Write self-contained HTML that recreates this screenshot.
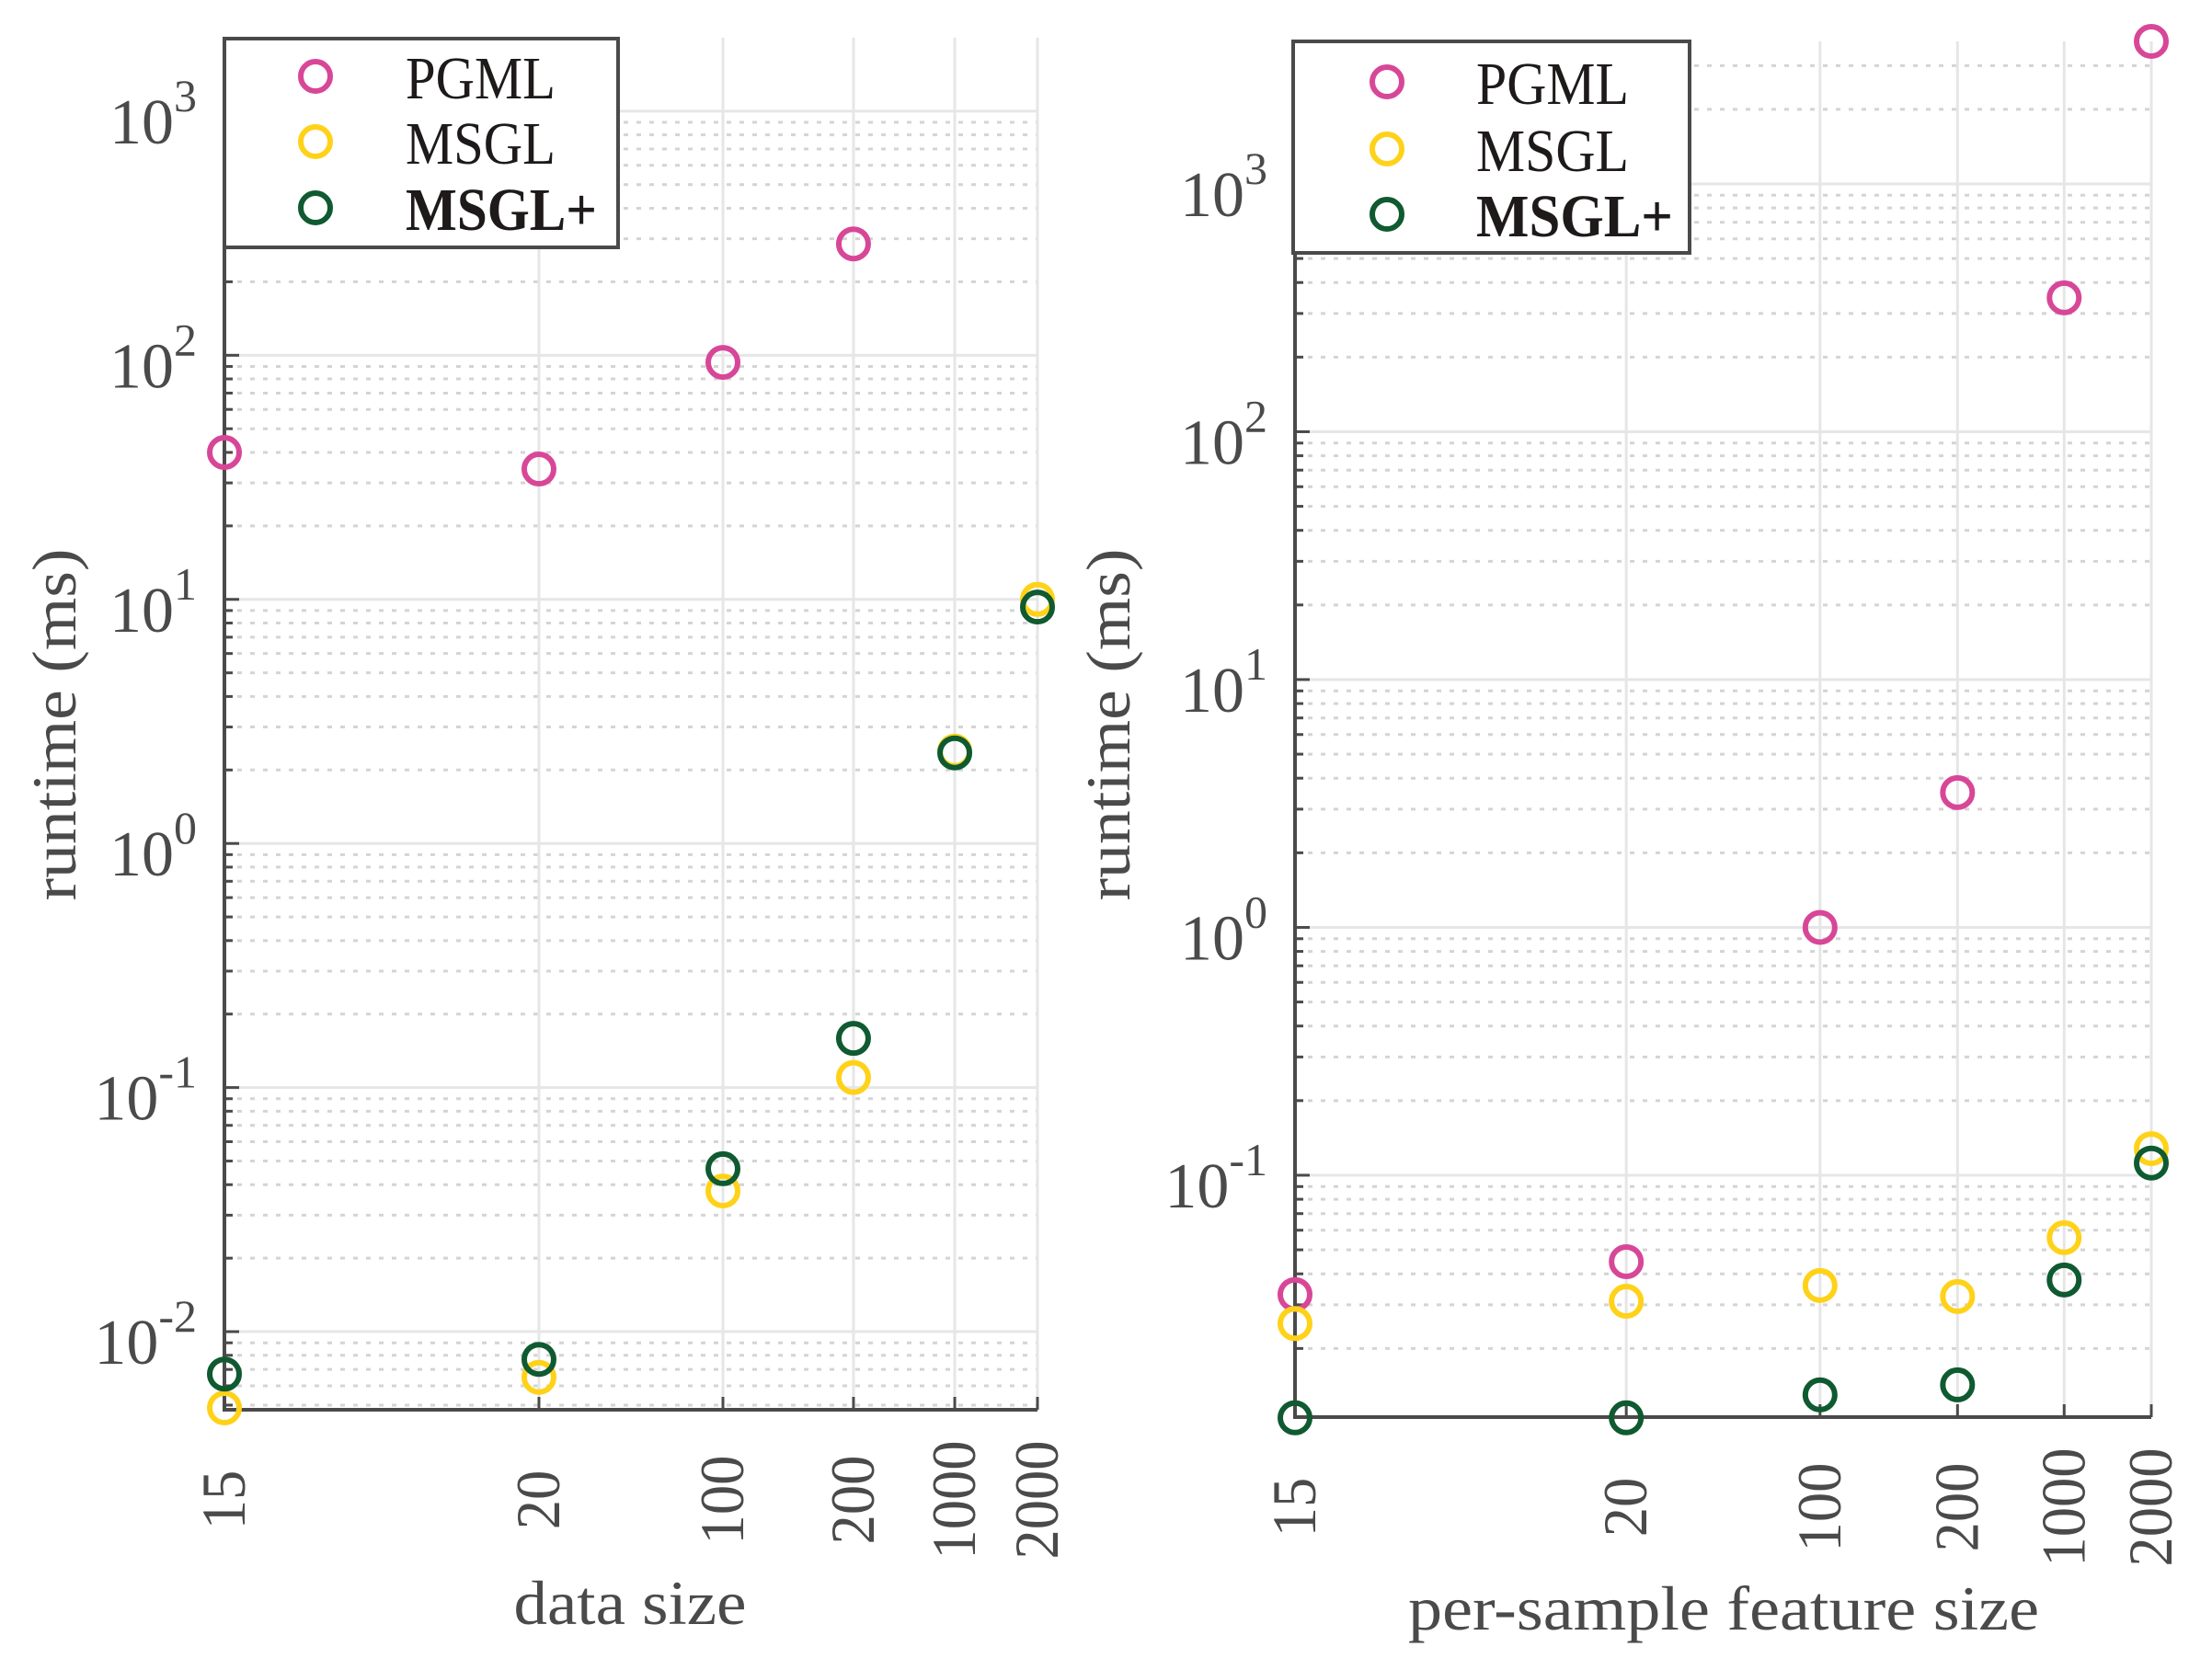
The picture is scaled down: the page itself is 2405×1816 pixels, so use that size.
<!DOCTYPE html>
<html><head><meta charset="utf-8"><style>
html,body{margin:0;padding:0;background:#fff;}
svg{display:block;}
text{font-family:"Liberation Serif",serif;}
</style></head><body>
<svg id="fig" width="2405" height="1816" viewBox="0 0 2405 1816" xmlns="http://www.w3.org/2000/svg"></svg>
<script>
const categories = ["15","20","100","200","1000","2000"];
const seriesNames = ["PGML","MSGL","MSGL+"];
const seriesColors = ["#d84797","#ffd21a","#0f5a30"];
// left panel: data size
const leftPGML = [40, 34.2, 93.5, 286, null, null];
const leftMSGL = [0.00487, 0.0065, 0.0377, 0.11, 2.39, 10];
const leftMSGLp = [0.0067, 0.0077, 0.0465, 0.159, 2.35, 9.3];
const leftDecades = [-2, -1, 0, 1, 2, 3];
// right panel: per-sample feature size
const rightPGML = [0.033, 0.0448, 1.0, 3.5, 347, 3760];
const rightMSGL = [0.0252, 0.031, 0.0359, 0.0324, 0.056, 0.128];
const rightMSGLp = [0.0105, 0.0105, 0.013, 0.01426, 0.0378, 0.112];
const rightDecades = [-1, 0, 1, 2, 3];

const NS = "http://www.w3.org/2000/svg";
const svg = document.getElementById("fig");
function el(tag, attrs, parent){
  const e = document.createElementNS(NS, tag);
  for (const k in attrs) e.setAttribute(k, attrs[k]);
  (parent||svg).appendChild(e);
  return e;
}

function panel(cfg){
  const g = el("g", {});
  
  
  const L=cfg.left, R=cfg.right, T=cfg.top, B=cfg.bottom;
  const xs = i => L + Math.log(i+1)/Math.log(6)*(R-L);
  const ys = v => B - (Math.log10(v)-cfg.lmin)/(cfg.lmax-cfg.lmin)*(B-T);
  const minorG = el("g", {}, g);
  
  
  for (let d=Math.floor(cfg.lmin); d<=Math.ceil(cfg.lmax); d++){
    for (let m=2;m<=9;m++){
      const lv = d+Math.log10(m);
      if (lv<=cfg.lmin || lv>=cfg.lmax) continue;
      const y = ys(Math.pow(10,lv));
      el("line",{x1:L,x2:R,y1:y,y2:y,stroke:"#d4d4d4","stroke-width":3,"stroke-dasharray":"5 9"},minorG);
      el("line",{x1:L,x2:L+9,y1:y,y2:y,stroke:"#4a4a4a","stroke-width":3},g);
    }
  }
  cfg.decades.forEach(d=>{
    const y = ys(Math.pow(10,d));
    const ln = el("line",{x1:L,x2:R,y1:y,y2:y,stroke:"#e6e6e6","stroke-width":3},g);
    
    
    el("line",{x1:L,x2:L+16,y1:y,y2:y,stroke:"#4a4a4a","stroke-width":3},g);
    const t = el("text",{transform:`translate(${L-30},${y+35})`,"text-anchor":"end","font-size":70,fill:"#4a4a4a"},g);
    
    
    t.appendChild(document.createTextNode("10"));
    const sp = el("tspan",{"font-size":50,dy:-35},t);
    sp.textContent = (d<0?"-":"")+Math.abs(d);
  });
  categories.forEach((c,i)=>{
    const x = xs(i);
    const ln = el("line",{x1:x,x2:x,y1:T,y2:B,stroke:"#e6e6e6","stroke-width":3},g);
    
    
    el("line",{x1:x,x2:x,y1:B,y2:B-14,stroke:"#4a4a4a","stroke-width":3},g);
    const t = el("text",{transform:`translate(${x+22},${B+98}) rotate(-90) scale(0.95,1)`,"text-anchor":"middle","font-size":68,fill:"#4a4a4a"},g);
    
    
    t.textContent = c;
  });
  const ax = el("path",{d:`M${L},${T} L${L},${B} L${R},${B}`,fill:"none",stroke:"#4a4a4a","stroke-width":4},g);
  
  
  [cfg.pgml,cfg.msgl,cfg.msglp].forEach((arr,s)=>{
    const sg = el("g",{},g);
    
    
    arr.forEach((v,i)=>{
      if (v==null) return;
      const c = el("circle",{cx:xs(i),cy:ys(v),r:16,fill:"none",stroke:seriesColors[s],"stroke-width":6},sg);
      
      
    });
  });
  const xt = el("text",{x:cfg.xtX,y:cfg.xtY,"text-anchor":"middle","font-size":68,fill:"#4a4a4a",textLength:cfg.xtW,lengthAdjust:"spacingAndGlyphs"},g);
  
  
  xt.textContent = cfg.xtitle;
  const yt = el("text",{transform:`translate(${cfg.ytX},788) rotate(-90)`,"text-anchor":"middle","font-size":68,fill:"#4a4a4a",textLength:383,lengthAdjust:"spacingAndGlyphs"},g);
  
  
  yt.textContent = "runtime (ms)";
  const lg = el("g",{},g);
  
  
  const lb = cfg.leg;
  el("rect",{x:lb.x,y:lb.y,width:lb.w,height:lb.h,fill:"#fff",stroke:"#4a4a4a","stroke-width":4},lg);
  seriesNames.forEach((n,s)=>{
    const e = el("g",{},lg);
    
    
    el("circle",{cx:lb.mx,cy:lb.my[s],r:16,fill:"none",stroke:seriesColors[s],"stroke-width":6},e);
    const t = el("text",{x:lb.tx,y:lb.my[s]+24,"font-size":66,fill:"#1e1a1a","font-weight":s==2?"bold":"normal",textLength:s==2?lb.w2:lb.w1,lengthAdjust:"spacingAndGlyphs"},e);
    t.textContent = n;
  });
}

panel({name:"left-panel",left:244,right:1128,top:41,bottom:1533,lmin:-2.320,lmax:3.301,decades:leftDecades,
  pgml:leftPGML,msgl:leftMSGL,msglp:leftMSGLp,xtitle:"data size",xtX:685,xtY:1766,xtW:253,ytX:82,
  leg:{x:244,y:42,w:428,h:227,mx:343,my:[83,154,226],tx:441,w1:163,w2:208}});
panel({name:"right-panel",left:1408,right:2339,top:45,bottom:1541,lmin:-1.976,lmax:3.575,decades:rightDecades,
  pgml:rightPGML,msgl:rightMSGL,msglp:rightMSGLp,xtitle:"per-sample feature size",xtX:1874,xtY:1772,xtW:686,ytX:1228,
  leg:{x:1406,y:45,w:431,h:230,mx:1508,my:[89,162,233],tx:1605,w1:166,w2:214}});
</script>
</body></html>
